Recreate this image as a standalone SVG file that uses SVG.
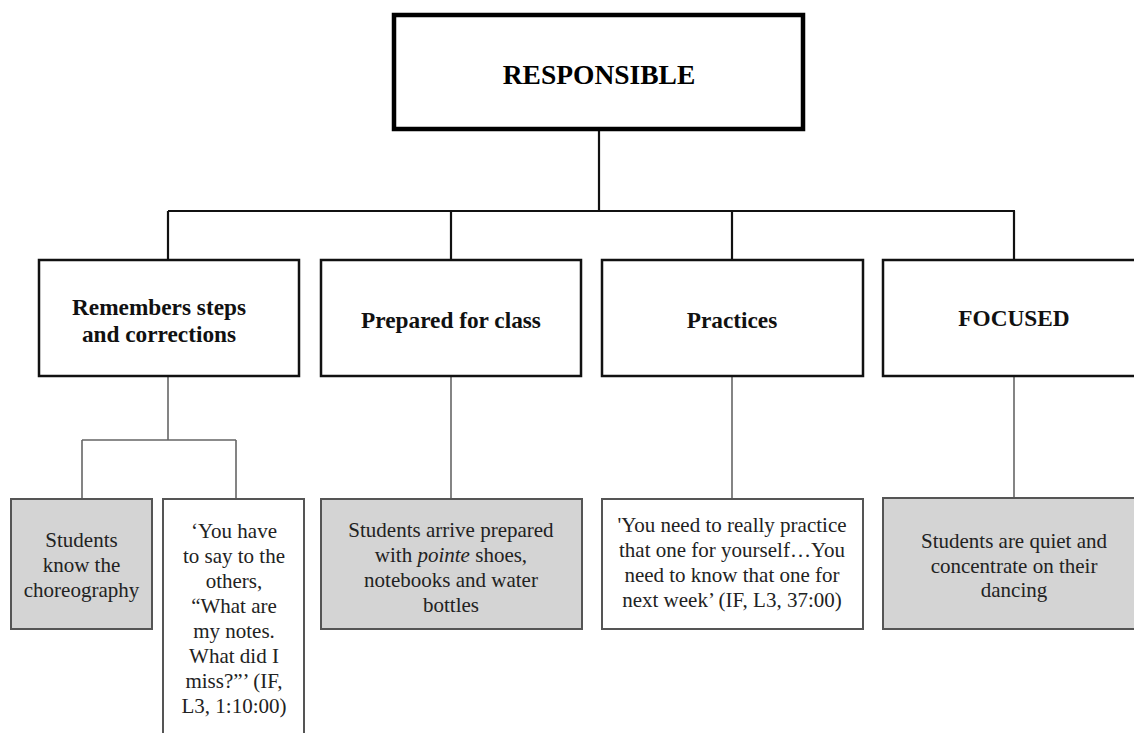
<svg xmlns="http://www.w3.org/2000/svg" width="1134" height="733" viewBox="0 0 1134 733">
  <style>
    .root { fill: #ffffff; stroke: #000000; stroke-width: 4.5; }
    .cat { fill: #ffffff; stroke: #111111; stroke-width: 2.5; }
    .ev { fill: #d4d4d4; stroke: #555555; stroke-width: 2; }
    .quote { fill: #ffffff; stroke: #555555; stroke-width: 2; }
    text { font-family: 'Liberation Serif', 'DejaVu Serif', serif; }
    .t-root { font-weight: bold; font-size: 27.5px; fill: #000; text-anchor: middle; }
    .t-cat { font-weight: bold; font-size: 23.3px; fill: #111; text-anchor: middle; }
    .t-ev { font-size: 21px; fill: #222; text-anchor: middle; }
    .link-top { fill: none; stroke: #111111; stroke-width: 2.2; }
    .link-low { fill: none; stroke: #666666; stroke-width: 1.6; }
  </style>
  <rect width="1134" height="733" fill="#ffffff"/>

  <!-- tree connectors: root bar, category stubs, evidence stubs -->
  <g id="connectors">
    <path class="link-top" d="M599 131 V211 M168 211 H1015 M168 211 V260 M451 211 V260 M732 211 V260 M1014 211 V260"/>
    <path class="link-low" d="M168 376 V440 M82 440 H236 M82 440 V499 M236 440 V499"/>
    <path class="link-low" d="M451 376 V499"/>
    <path class="link-low" d="M732 376 V499"/>
    <path class="link-low" d="M1014 376 V498"/>
  </g>

  <g id="node-responsible">
    <rect class="root" x="394" y="15" width="409" height="114"/>
    <text class="t-root" x="599" y="84">RESPONSIBLE</text>
  </g>

  <g id="node-remembers">
    <rect class="cat" x="39" y="260" width="260" height="116"/>
    <text class="t-cat" x="159" y="315">Remembers steps</text>
    <text class="t-cat" x="159" y="342">and corrections</text>
  </g>

  <g id="node-prepared">
    <rect class="cat" x="321" y="260" width="260" height="116"/>
    <text class="t-cat" x="451" y="328">Prepared for class</text>
  </g>

  <g id="node-practices">
    <rect class="cat" x="602" y="260" width="261" height="116"/>
    <text class="t-cat" x="732" y="328">Practices</text>
  </g>

  <g id="node-focused">
    <rect class="cat" x="883" y="260" width="262" height="116"/>
    <text class="t-cat" x="1014" y="326">FOCUSED</text>
  </g>

  <g id="node-know-choreography">
    <rect class="ev" x="11" y="499" width="141" height="130"/>
    <text class="t-ev" x="81.5" y="547">Students</text>
    <text class="t-ev" x="81.5" y="572">know the</text>
    <text class="t-ev" x="81.5" y="597">choreography</text>
  </g>

  <g id="node-quote-notes">
    <rect class="quote" x="163" y="499" width="141" height="250"/>
    <text class="t-ev" x="234" y="538">‘You have</text>
    <text class="t-ev" x="234" y="563">to say to the</text>
    <text class="t-ev" x="234" y="588">others,</text>
    <text class="t-ev" x="234" y="613">“What are</text>
    <text class="t-ev" x="234" y="638">my notes.</text>
    <text class="t-ev" x="234" y="663">What did I</text>
    <text class="t-ev" x="234" y="688">miss?”’ (IF,</text>
    <text class="t-ev" x="234" y="713">L3, 1:10:00)</text>
  </g>

  <g id="node-arrive-prepared">
    <rect class="ev" x="321" y="499" width="261" height="130"/>
    <text class="t-ev" x="451" y="537">Students arrive prepared</text>
    <text class="t-ev" x="451" y="562">with <tspan font-style="italic">pointe</tspan> shoes,</text>
    <text class="t-ev" x="451" y="587">notebooks and water</text>
    <text class="t-ev" x="451" y="612">bottles</text>
  </g>

  <g id="node-quote-practice">
    <rect class="quote" x="602" y="499" width="261" height="130"/>
    <text class="t-ev" x="732" y="532">'You need to really practice</text>
    <text class="t-ev" x="732" y="557">that one for yourself…You</text>
    <text class="t-ev" x="732" y="582">need to know that one for</text>
    <text class="t-ev" x="732" y="607">next week’ (IF, L3, 37:00)</text>
  </g>

  <g id="node-quiet">
    <rect class="ev" x="883" y="498" width="262" height="131"/>
    <text class="t-ev" x="1014" y="548">Students are quiet and</text>
    <text class="t-ev" x="1014" y="573">concentrate on their</text>
    <text class="t-ev" x="1014" y="597">dancing</text>
  </g>
</svg>
